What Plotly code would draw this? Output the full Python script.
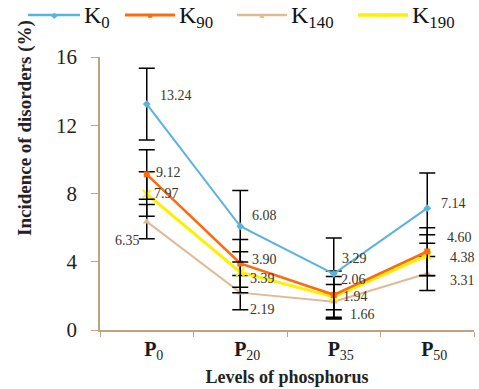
import plotly.graph_objects as go

x_keys = ["P0", "P20", "P35", "P50"]
tick_text = ["<b>P</b><sub>0</sub>", "<b>P</b><sub>20</sub>", "<b>P</b><sub>35</sub>", "<b>P</b><sub>50</sub>"]

series_names = ["K<sub>0</sub>", "K<sub>90</sub>", "K<sub>140</sub>", "K<sub>190</sub>"]
k0 = [13.24, 6.08, 3.29, 7.14]
k90 = [9.12, 3.90, 2.06, 4.60]
k140 = [6.35, 2.19, 1.66, 3.31]
k190 = [7.97, 3.39, 1.94, 4.38]
err_k0 = [2.1, 2.1, 2.1, 2.06]
err_k90 = [1.45, 1.4, 1.4, 1.4]
err_k140 = [1.0, 1.0, 1.0, 1.0]
err_k190 = [1.3, 1.2, 1.2, 1.2]

y_ticks = [0, 4, 8, 12, 16]

SERIF = "Liberation Serif, DejaVu Serif, Times New Roman, serif"

values = [k0, k90, k140, k190]
errors = [err_k0, err_k90, err_k140, err_k190]
colors = ["#5AB2E0", "#FF6A0A", "#DDBB96", "#FFF000"]
symbols = ["diamond", "square", "triangle-up", "x-thin-open"]
legend_glyphs = ["◆", "■", "▲", "✕"]
widths = [2, 2.6, 2, 3]
msizes = [6, 6, 7, 8]

# layout geometry (pixels)
W, H = 479, 389
L, R, T, B = 100, 5, 57, 59
PW, PH = W - L - R, H - T - B


def px_x(p):
    return (p - L) / PW


def px_y(p):
    return (H - B - p) / PH


# label offsets (pixels) per series per point
label_off = [
    [(29, 9), (24, 11), (21, 15), (26, 5)],
    [(22, 2), (24, 4), (20, 15), (32, 14)],
    [(-19, -19), (22, -17), (29, -13), (35, -7)],
    [(20, 1), (22, -6), (22, 0), (35, -2)],
]

fig = go.Figure()
order = [2, 3, 1, 0]
for i in order:
    fig.add_trace(go.Scatter(
        x=x_keys, y=values[i], name=series_names[i], mode="lines+markers",
        line=dict(color=colors[i], width=widths[i]),
        marker=dict(symbol=symbols[i], size=msizes[i], color=colors[i],
                    line=dict(color=colors[i], width=2 if i == 3 else 0)),
        error_y=dict(type="data", array=errors[i], visible=True, color="black",
                     thickness=1.5, width=8),
        showlegend=False,
    ))

for i in range(4):
    for j in range(4):
        dx, dy = label_off[i][j]
        fig.add_annotation(x=x_keys[j], y=values[i][j], text=f"{values[i][j]:.2f}",
                           showarrow=False, xshift=dx, yshift=dy,
                           font=dict(family=SERIF, size=14, color="#3a3328"))

# manual legend (line sample, marker glyph, label)
leg_line_px = [(28, 80), (125, 175), (237, 287), (358, 408)]
leg_y_px = 15
for i in range(4):
    x0, x1 = leg_line_px[i]
    fig.add_shape(type="line", xref="paper", yref="paper",
                  x0=px_x(x0), x1=px_x(x1), y0=px_y(leg_y_px), y1=px_y(leg_y_px),
                  line=dict(color=colors[i], width=widths[i] + 0.5))
    fig.add_annotation(xref="paper", yref="paper", x=px_x((x0 + x1) / 2), y=px_y(leg_y_px),
                       text=legend_glyphs[i], showarrow=False, xanchor="center", yanchor="middle",
                       font=dict(size=8, color=colors[i]))
    fig.add_annotation(xref="paper", yref="paper", x=px_x(x1 + 2), y=px_y(leg_y_px + 2),
                       text=series_names[i], showarrow=False, xanchor="left", yanchor="middle",
                       font=dict(size=24, family=SERIF, color="#111111"))

fig.add_annotation(xref="paper", yref="paper", x=px_x(25), y=px_y(128),
                   text="<b>Incidence of disorders (%)</b>",
                   textangle=-90, showarrow=False, xanchor="center", yanchor="middle",
                   font=dict(family=SERIF, size=19, color="#222222"))

fig.update_layout(
    width=W, height=H,
    margin=dict(l=L, r=R, t=T, b=B, autoexpand=False),
    paper_bgcolor="white", plot_bgcolor="white",
    font=dict(family=SERIF, color="#222222"),
    showlegend=False,
    xaxis=dict(
        type="category", categoryarray=x_keys, tickvals=x_keys, ticktext=tick_text,
        range=[-0.5, 3.5], tickson="boundaries", ticks="outside", ticklen=5,
        tickcolor="#BFA37F", showline=True, linecolor="#BFA37F", linewidth=1.5,
        showgrid=False, zeroline=False, ticklabelshift=7,
        tickfont=dict(size=20, family=SERIF, color="#1a1a1a"),
        title=dict(text="<b>Levels of phosphorus</b>", standoff=8,
                   font=dict(size=18, family=SERIF, color="#222222")),
    ),
    yaxis=dict(
        range=[0, 16], tickvals=y_ticks, ticks="outside", ticklen=7,
        tickcolor="#BFA37F", showline=True, linecolor="#BFA37F", linewidth=1.5,
        showgrid=False, zeroline=False, ticklabelstandoff=10,
        tickfont=dict(size=21, family=SERIF, color="#222222"),
    ),
)

fig.write_html("out.html")
